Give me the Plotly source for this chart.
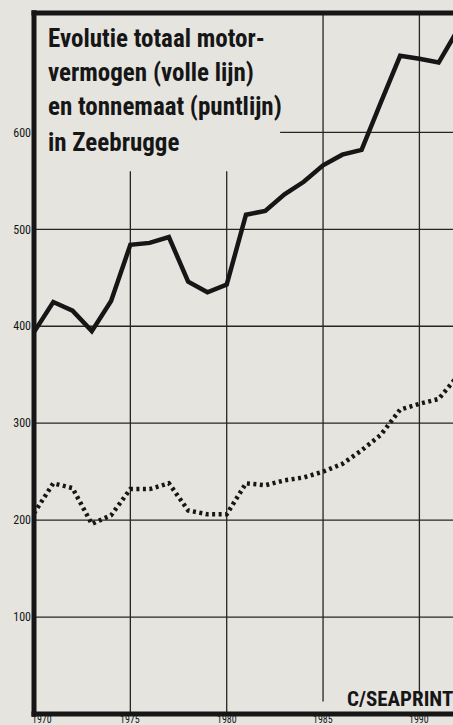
import plotly.graph_objects as go

years = list(range(1970, 1993))
# totaal motorvermogen (volle lijn)
motor = [394, 425, 416, 395, 426, 484, 486, 492, 446, 435, 443, 515, 519, 536, 549, 566, 577, 582, 631, 679, 676, 672, 706]
# tonnemaat (puntlijn)
tonnage = [207, 238, 233, 196, 205, 232, 232, 238, 210, 206, 206, 238, 236, 241, 244, 250, 258, 272, 288, 314, 320, 325, 349]

y_ticks = [100, 200, 300, 400, 500, 600]
x_ticks = [1970, 1975, 1980, 1985, 1990]

title_lines = ["Evolutie totaal motor-", "vermogen (volle lijn)", "en tonnemaat (puntlijn)", "in Zeebrugge"]
source = "C/SEAPRINT"

FONT = "Liberation Sans Narrow, Roboto Condensed, Arial Narrow, Liberation Sans, sans-serif"
INK = "#161616"
BG = "#e5e4df"

W, H = 453, 725
ML, MR, MT, MB = 34, 0, 13, 11
XMAX = 1970 + (W - ML - MR) / 19.27
YMAX = (H - MT - MB) / 0.9694

fig = go.Figure()
fig.add_trace(go.Scatter(x=years, y=motor, mode="lines",
                         line=dict(color=INK, width=4.5), showlegend=False))
fig.add_trace(go.Scatter(x=years, y=tonnage, mode="lines",
                         line=dict(color=INK, width=4.5, dash="3px,3.5px"), showlegend=False))

shapes = []
grid = dict(color="#262626", width=1.3)
# horizontal gridlines
for v in y_ticks:
    x0 = 1982.77 if v == 600 else 1970
    shapes.append(dict(type="line", xref="x", yref="y", x0=x0, x1=XMAX, y0=v, y1=v, line=grid, layer="below"))
# vertical gridlines
vspans = {1975: (0, 560), 1980: (0, 560), 1985: (13, YMAX), 1990: (19, YMAX)}
for xv, (a, b) in vspans.items():
    shapes.append(dict(type="line", xref="x", yref="y", x0=xv, x1=xv, y0=a, y1=b, line=grid, layer="below"))
# thick frame
frame = dict(color=INK, width=5)
shapes.append(dict(type="line", xref="paper", yref="paper", x0=0, x1=0, y0=-0.004, y1=1.004, line=frame))
shapes.append(dict(type="line", xref="paper", yref="paper", x0=-0.006, x1=1, y0=1, y1=1, line=frame))
shapes.append(dict(type="line", xref="paper", yref="paper", x0=-0.006, x1=1, y0=0, y1=0, line=frame))

annotations = []
ph = H - MT - MB
def py(ypix):
    return 1 - (ypix - MT) / ph
line_centres = [38, 72, 106, 143]
for t, yc in zip(title_lines, line_centres):
    annotations.append(dict(text=t, xref="paper", yref="paper", x=(46 - ML) / (W - ML), y=py(yc),
                            xanchor="left", yanchor="middle", showarrow=False,
                            font=dict(family=FONT, size=25, color=INK, weight="bold")))
annotations.append(dict(text=source, xref="paper", yref="paper", x=1.004, y=py(699),
                        xanchor="right", yanchor="middle", showarrow=False,
                        font=dict(family=FONT, size=21, color=INK, weight="bold")))
# x tick labels, placed just under the frame
for xv in x_ticks:
    annotations.append(dict(text=str(xv), xref="x", yref="paper", x=xv + (0.4 if xv == 1970 else 0),
                            y=py(719), xanchor="center", yanchor="middle", showarrow=False,
                            borderpad=0, font=dict(family=FONT, size=10, color=INK)))

fig.update_layout(
    width=W, height=H,
    margin=dict(l=ML, r=MR, t=MT, b=MB, autoexpand=False),
    paper_bgcolor=BG, plot_bgcolor=BG,
    shapes=shapes, annotations=annotations,
    xaxis=dict(range=[1970, XMAX], showticklabels=False,
               showgrid=False, zeroline=False, showline=False, ticks=""),
    yaxis=dict(range=[0, YMAX], tickvals=y_ticks, ticktext=[str(v) for v in y_ticks],
               showgrid=False, zeroline=False, showline=False, ticks="",
               tickfont=dict(family=FONT, size=12, color=INK), ticklabelstandoff=2),
)

fig.write_html("out.html", config={"displayModeBar": False},
               post_script="document.body.style.margin='0';document.body.style.overflow='hidden';")
